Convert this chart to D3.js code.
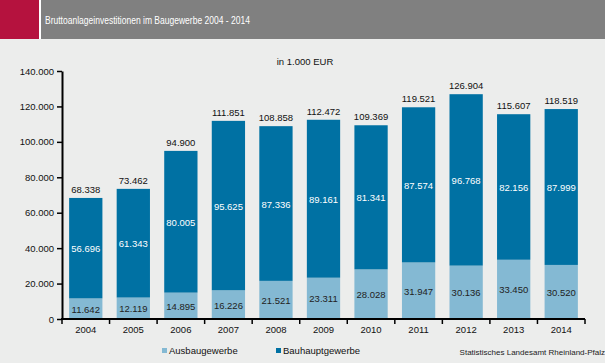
<!DOCTYPE html>
<meta charset="UTF-8">
<html>
<head>
<style>
html, body { margin:0; padding:0; background:#ecedec; }
svg { display:block; font-family:"Liberation Sans", Arial, sans-serif; }
.axis path, .axis line { stroke:#000; }
</style>
</head>
<body>
<svg width="605" height="363"></svg>
<script src="https://d3js.org/d3.v7.min.js"></script>
<script>
var years = ["2004","2005","2006","2007","2008","2009","2010","2011","2012","2013","2014"];
var ausbau = [11642, 12119, 14895, 16226, 21521, 23311, 28028, 31947, 30136, 33450, 30520];
var bauhaupt = [56696, 61343, 80005, 95625, 87336, 89161, 81341, 87574, 96768, 82156, 87999];
var totals = [68338, 73462, 94900, 111851, 108858, 112472, 109369, 119521, 126904, 115607, 118519];
var yTicks = [0, 20000, 40000, 60000, 80000, 100000, 120000, 140000];

var svg = d3.select("svg");
var fmt = function(v) { return d3.format(",")(v).replace(/,/g, "."); };

// header band
svg.append("rect").attr("x", 0).attr("y", 0).attr("width", 39).attr("height", 39).attr("fill", "#b5123e");
svg.append("rect").attr("x", 39).attr("y", 0).attr("width", 2).attr("height", 39).attr("fill", "#fff");
svg.append("rect").attr("x", 41).attr("y", 0).attr("width", 564).attr("height", 39).attr("fill", "#808080");
svg.append("text").attr("x", 45).attr("y", 24).attr("fill", "#fff").attr("font-size", 10.5)
  .attr("textLength", 205).attr("lengthAdjust", "spacingAndGlyphs")
  .text("Bruttoanlageinvestitionen im Baugewerbe 2004 - 2014");

var x = d3.scaleBand().domain(years).range([62, 585]).paddingInner(0.3).paddingOuter(0.15);
var y = d3.scaleLinear().domain([0, 140000]).range([319, 71]);

svg.append("text").attr("x", 305).attr("y", 65).attr("text-anchor", "middle")
  .attr("font-size", 9.5).attr("fill", "#111").text("in 1.000 EUR");

var g = svg.append("g");
years.forEach(function(yr, i) {
  var bx = x(yr), bw = x.bandwidth(), cx = bx + bw / 2;
  g.append("rect").attr("x", bx).attr("width", bw)
    .attr("y", y(ausbau[i])).attr("height", y(0) - y(ausbau[i])).attr("fill", "#84b9d3");
  g.append("rect").attr("x", bx).attr("width", bw)
    .attr("y", y(totals[i])).attr("height", y(ausbau[i]) - y(totals[i])).attr("fill", "#0071a3");
  g.append("text").attr("x", cx).attr("y", (y(0) + y(ausbau[i])) / 2 + 4)
    .attr("text-anchor", "middle").attr("font-size", 9.5).attr("fill", "#222").text(fmt(ausbau[i]));
  g.append("text").attr("x", cx).attr("y", (y(ausbau[i]) + y(totals[i])) / 2 + 4)
    .attr("text-anchor", "middle").attr("font-size", 9.5).attr("fill", "#fff").text(fmt(bauhaupt[i]));
  g.append("text").attr("x", cx).attr("y", y(totals[i]) - 5)
    .attr("text-anchor", "middle").attr("font-size", 9.5).attr("fill", "#111").text(fmt(totals[i]));
});

// y axis
var yAxis = svg.append("g").attr("class", "axis").attr("transform", "translate(62,0)")
  .call(d3.axisLeft(y).tickValues(yTicks).tickSize(5).tickSizeOuter(0).tickFormat(fmt));
yAxis.select(".domain").attr("stroke-width", 2);
yAxis.selectAll("line").attr("stroke-width", 1.5);
yAxis.selectAll("text").attr("font-size", 9.5).attr("fill", "#111").attr("font-family", "Liberation Sans, Arial, sans-serif");

// x axis with ticks at category boundaries
var xAxis = svg.append("g").attr("class", "axis").attr("transform", "translate(0,319)");
xAxis.append("line").attr("x1", 61).attr("x2", 585).attr("stroke", "#000").attr("stroke-width", 2);
var bounds = d3.range(years.length + 1).map(function(k) { return 62 + k * (523 / years.length); });
xAxis.selectAll(".tk").data(bounds).enter().append("line")
  .attr("x1", function(d) { return d; }).attr("x2", function(d) { return d; })
  .attr("y1", 0).attr("y2", 5).attr("stroke", "#000").attr("stroke-width", 1.5);
xAxis.selectAll(".lb").data(years).enter().append("text")
  .attr("x", function(d) { return x(d) + x.bandwidth() / 2; }).attr("y", 14)
  .attr("text-anchor", "middle").attr("font-size", 9.5).attr("fill", "#111").text(function(d) { return d; });

// legend
var legend = [{name:"Ausbaugewerbe", color:"#84b9d3", x:162}, {name:"Bauhauptgewerbe", color:"#0071a3", x:276}];
legend.forEach(function(l) {
  svg.append("rect").attr("x", l.x).attr("y", 348).attr("width", 5).attr("height", 5).attr("fill", l.color);
  svg.append("text").attr("x", l.x + 7).attr("y", 354).attr("font-size", 9.5).attr("fill", "#111").text(l.name);
});

svg.append("text").attr("x", 605).attr("y", 355).attr("text-anchor", "end")
  .attr("font-size", 8).attr("fill", "#222").text("Statistisches Landesamt Rheinland-Pfalz");
</script>
</body>
</html>
